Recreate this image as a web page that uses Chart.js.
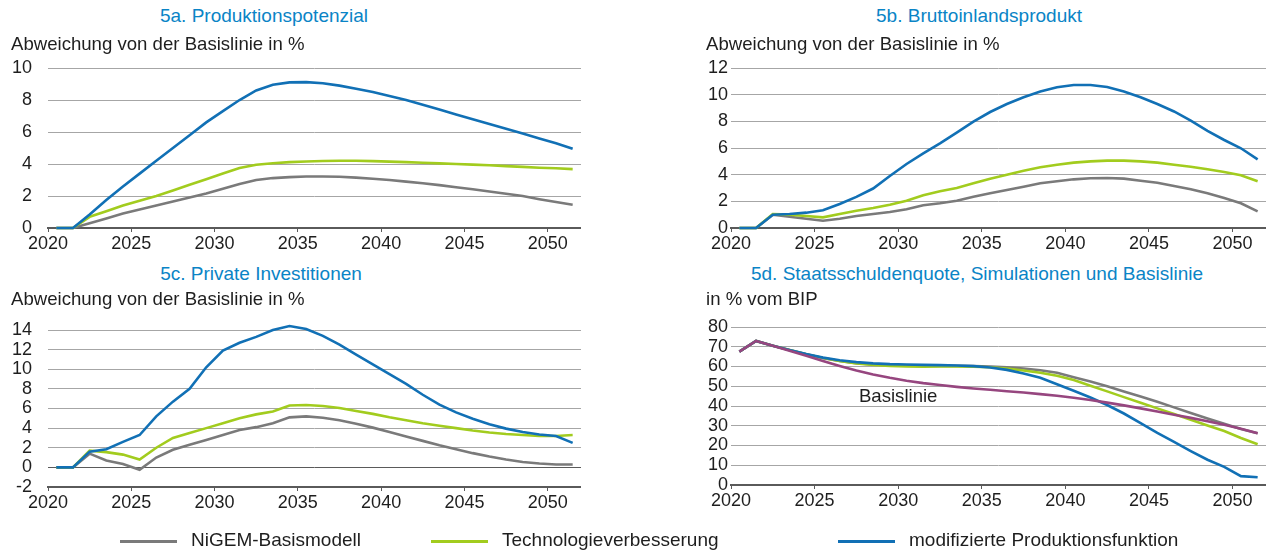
<!DOCTYPE html>
<html>
<head>
<meta charset="utf-8">
<script src="https://cdn.jsdelivr.net/npm/chart.js@4"></script>
<style>
  body { margin: 0; width: 1266px; height: 553px; background: #fff; position: relative; overflow: hidden; font-family: "Liberation Sans", Arial, sans-serif; }
  canvas { position: absolute; }
  .title { position: absolute; width: 600px; text-align: center; font-size: 19px; line-height: 19px; color: #0a84c6; white-space: nowrap; }
</style>
</head>
<body>

<div class="title" style="left:-36px; top:6px">5a. Produktionspotenzial</div>
<canvas id="chartA" width="581" height="228" style="left:0px; top:30px"></canvas>

<div class="title" style="left:679px; top:6px">5b. Bruttoinlandsprodukt</div>
<canvas id="chartB" width="583" height="228" style="left:683px; top:30px"></canvas>

<div class="title" style="left:-39px; top:264px">5c. Private Investitionen</div>
<canvas id="chartC" width="581" height="232" style="left:0px; top:285px"></canvas>

<div class="title" style="left:677px; top:264px">5d. Staatsschuldenquote, Simulationen und Basislinie</div>
<canvas id="chartD" width="583" height="230" style="left:683px; top:285px"></canvas>

<canvas id="legend" width="1266" height="28" style="left:0px; top:525px"></canvas>

<script>
// annual values, plotted at mid-year
const years = [2020, 2021, 2022, 2023, 2024, 2025, 2026, 2027, 2028, 2029, 2030, 2031, 2032, 2033, 2034, 2035,
               2036, 2037, 2038, 2039, 2040, 2041, 2042, 2043, 2044, 2045, 2046, 2047, 2048, 2049, 2050, 2051];
const xTicks = [2020, 2025, 2030, 2035, 2040, 2045, 2050];

// 5a. Produktionspotenzial
const potNigem = [0, 0, 0.3, 0.6, 0.9, 1.15, 1.4, 1.65, 1.9, 2.15, 2.45, 2.75, 3.0, 3.12, 3.18, 3.22, 3.22, 3.2, 3.15, 3.08, 3.0, 2.9, 2.8, 2.68, 2.55, 2.42, 2.28, 2.14, 2.0, 1.8, 1.62, 1.45];
const potTech = [0, 0, 0.7, 1.05, 1.4, 1.7, 2.0, 2.35, 2.7, 3.05, 3.4, 3.75, 3.95, 4.05, 4.12, 4.16, 4.19, 4.2, 4.2, 4.18, 4.15, 4.12, 4.08, 4.04, 4.0, 3.96, 3.92, 3.87, 3.82, 3.77, 3.73, 3.68];
const potMod = [0, 0, 0.85, 1.75, 2.6, 3.4, 4.2, 5.0, 5.8, 6.6, 7.3, 8.0, 8.6, 8.95, 9.1, 9.12, 9.05, 8.9, 8.7, 8.5, 8.25, 8.0, 7.7, 7.4, 7.1, 6.8, 6.5, 6.2, 5.9, 5.6, 5.3, 4.95];

// 5b. Bruttoinlandsprodukt
const bipNigem = [0, 0, 1.0, 0.85, 0.7, 0.55, 0.7, 0.9, 1.05, 1.2, 1.4, 1.7, 1.85, 2.05, 2.35, 2.6, 2.85, 3.1, 3.35, 3.5, 3.65, 3.73, 3.75, 3.7, 3.55, 3.4, 3.15, 2.9, 2.6, 2.25, 1.85, 1.25];
const bipTech = [0, 0, 1.05, 1.0, 0.9, 0.8, 1.05, 1.3, 1.5, 1.75, 2.05, 2.45, 2.75, 3.0, 3.35, 3.7, 4.0, 4.3, 4.55, 4.75, 4.9, 5.0, 5.05, 5.05, 5.0, 4.9, 4.75, 4.6, 4.4, 4.2, 3.95, 3.5];
const bipMod = [0, 0, 1.0, 1.05, 1.15, 1.33, 1.8, 2.33, 2.96, 3.9, 4.8, 5.6, 6.35, 7.15, 7.98, 8.7, 9.3, 9.8, 10.24, 10.55, 10.72, 10.72, 10.57, 10.24, 9.8, 9.3, 8.74, 8.06, 7.28, 6.6, 5.98, 5.15];

// 5c. Private Investitionen
const invNigem = [0, 0, 1.4, 0.7, 0.35, -0.25, 1.0, 1.8, 2.3, 2.8, 3.3, 3.8, 4.1, 4.5, 5.1, 5.2, 5.05, 4.8, 4.45, 4.05, 3.6, 3.15, 2.7, 2.25, 1.85, 1.45, 1.1, 0.8, 0.55, 0.4, 0.3, 0.3];
const invTech = [0, 0, 1.7, 1.55, 1.3, 0.8, 2.0, 3.0, 3.5, 4.0, 4.5, 5.0, 5.4, 5.7, 6.3, 6.35, 6.25, 6.05, 5.75, 5.45, 5.1, 4.8, 4.5, 4.25, 4.0, 3.75, 3.55, 3.4, 3.3, 3.2, 3.2, 3.3];
const invMod = [0, 0, 1.6, 1.85, 2.6, 3.3, 5.2, 6.7, 8.0, 10.2, 11.9, 12.7, 13.3, 14.0, 14.4, 14.1, 13.4, 12.5, 11.5, 10.5, 9.5, 8.5, 7.4, 6.4, 5.6, 4.95, 4.4, 3.95, 3.6, 3.35, 3.2, 2.5];

// 5d. Staatsschuldenquote
const debtNigem = [67.5, 72.9, 70.5, 68.3, 66.2, 64.3, 62.8, 61.7, 61.0, 60.6, 60.4, 60.3, 60.3, 60.3, 60.2, 60.0, 59.6, 59.0, 58.1, 56.8, 54.6, 52.4, 50.0, 47.4, 44.8, 42.1, 39.3, 36.5, 33.7, 31.0, 28.4, 26.2];
const debtTech = [67.5, 72.9, 70.5, 68.3, 66.2, 64.3, 62.8, 61.5, 60.8, 60.3, 60.0, 59.9, 60.0, 60.0, 59.9, 59.6, 59.0, 58.0, 56.8, 55.3, 53.2, 50.3, 47.4, 44.5, 41.6, 38.8, 35.9, 33.0, 30.1, 27.3, 23.8, 20.6];
const debtMod = [67.5, 72.9, 70.5, 68.3, 66.3, 64.5, 63.2, 62.2, 61.6, 61.2, 61.0, 60.8, 60.7, 60.5, 60.2, 59.5, 58.3, 56.5, 54.3, 51.0, 47.7, 44.3, 40.5, 36.2, 31.3, 26.4, 21.8, 17.2, 12.8, 9.2, 4.5, 3.9];
const debtBase = [67.5, 72.9, 70.5, 68.0, 65.5, 62.8, 60.3, 58.0, 56.0, 54.3, 52.8, 51.6, 50.6, 49.7, 48.9, 48.2, 47.5, 46.8, 46.0, 45.2, 44.2, 43.0, 41.7, 40.3, 38.8, 37.2, 35.6, 34.0, 32.3, 30.5, 28.5, 26.2];

const seriesNames = ["NiGEM-Basismodell", "Technologieverbesserung", "modifizierte Produktionsfunktion"];
const basisLabel = { text: "Basislinie", x: 2030, y: 44.6 };

const GREY = "#7a7a7a", GREEN = "#a2cc1e", BLUE = "#1170b5", PURPLE = "#96467f";
const GRID = "#a6a6a6", AXIS = "#5a5a5a", TEXT = "#1e1e1e";
const FONT = '"Liberation Sans", Arial, sans-serif';

Chart.defaults.font.family = FONT;
Chart.defaults.font.size = 18;
Chart.defaults.color = TEXT;

// axis caption above each plot ("Abweichung ...")
const subPlugin = {
    id: "subText",
    afterDraw(chart, args, opts) {
        const ctx = chart.ctx;
        ctx.save();
        ctx.font = "18.6px " + FONT;
        ctx.fillStyle = TEXT;
        ctx.textAlign = "left";
        ctx.textBaseline = "alphabetic";
        ctx.fillText(opts.text, opts.x, 20);
        ctx.restore();
    }
};

// text label inside panel 5d
const basisPlugin = {
    id: "basisText",
    afterDatasetsDraw(chart) {
        const ctx = chart.ctx;
        ctx.save();
        ctx.font = "18.6px " + FONT;
        ctx.fillStyle = TEXT;
        ctx.textAlign = "center";
        ctx.textBaseline = "middle";
        ctx.fillText(basisLabel.text, chart.scales.x.getPixelForValue(basisLabel.x), chart.scales.y.getPixelForValue(basisLabel.y));
        ctx.restore();
    }
};

function makePanel(id, series, yMin, yMax, yStep, yPad, padTop, subtitle, subX, zeroLine, withLabel) {
    const datasets = series.map(s => ({
        data: years.map((yr, i) => ({ x: yr + 0.5, y: s.values[i] })),
        borderColor: s.color,
        borderWidth: 2.6,
        pointRadius: 0,
        tension: 0,
        fill: false,
        clip: false,
        order: s.order
    }));
    const plugins = [subPlugin];
    if (withLabel) plugins.push(basisPlugin);
    return new Chart(document.getElementById(id), {
        type: "line",
        data: { datasets: datasets },
        options: {
            responsive: false,
            animation: false,
            devicePixelRatio: 1,
            layout: { padding: { top: padTop, right: 0, bottom: 0, left: 0 } },
            plugins: {
                legend: { display: false },
                tooltip: { enabled: false },
                subText: { text: subtitle, x: subX }
            },
            scales: {
                x: {
                    type: "linear",
                    min: 2020,
                    max: 2052,
                    afterBuildTicks: s => { s.ticks = xTicks.map(v => ({ value: v })); },
                    afterFit: s => { s.height = 30; },
                    grid: { drawOnChartArea: false, drawTicks: true, tickLength: 4, color: AXIS, lineWidth: 1 },
                    border: { display: true, color: AXIS, width: 2 },
                    ticks: { padding: 1, maxRotation: 0, autoSkip: false, callback: v => String(v) }
                },
                y: {
                    min: yMin,
                    max: yMax,
                    afterFit: s => { s.width = 48; },
                    grid: {
                        display: true,
                        drawOnChartArea: true,
                        drawTicks: false,
                        color: zeroLine ? (c => (c.tick && c.tick.value === 0 ? AXIS : GRID)) : GRID,
                        lineWidth: 1
                    },
                    border: { display: false },
                    ticks: { stepSize: yStep, padding: yPad, autoSkip: false, callback: v => String(v) }
                }
            }
        },
        plugins: plugins
    });
}

makePanel("chartA", [
    { values: potNigem, color: GREY, order: 3 },
    { values: potTech, color: GREEN, order: 2 },
    { values: potMod, color: BLUE, order: 1 }
], 0, 10, 2, 16, 38, "Abweichung von der Basislinie in %", 11, false, false);

makePanel("chartB", [
    { values: bipNigem, color: GREY, order: 3 },
    { values: bipTech, color: GREEN, order: 2 },
    { values: bipMod, color: BLUE, order: 1 }
], 0, 12, 2, 3, 38, "Abweichung von der Basislinie in %", 23, false, false);

// zero line darker in panel 5c
makePanel("chartC", [
    { values: invNigem, color: GREY, order: 3 },
    { values: invTech, color: GREEN, order: 2 },
    { values: invMod, color: BLUE, order: 1 }
], -2, 14, 2, 16, 45, "Abweichung von der Basislinie in %", 11, true, false);

makePanel("chartD", [
    { values: debtNigem, color: GREY, order: 3 },
    { values: debtTech, color: GREEN, order: 2 },
    { values: debtMod, color: BLUE, order: 1 },
    { values: debtBase, color: PURPLE, order: 0 }
], 0, 80, 10, 3, 42, "in % vom BIP", 23, false, true);

// shared legend under the four panels
const legendColors = [GREY, GREEN, BLUE];
const legendSwatchX = [120, 431, 838];
const lctx = document.getElementById("legend").getContext("2d");
lctx.font = "19px " + FONT;
lctx.textBaseline = "middle";
seriesNames.forEach((name, i) => {
    lctx.fillStyle = legendColors[i];
    lctx.fillRect(legendSwatchX[i], 15, 57, 3);
    lctx.fillStyle = TEXT;
    lctx.fillText(name, legendSwatchX[i] + 71, 16);
});
</script>
</body>
</html>
